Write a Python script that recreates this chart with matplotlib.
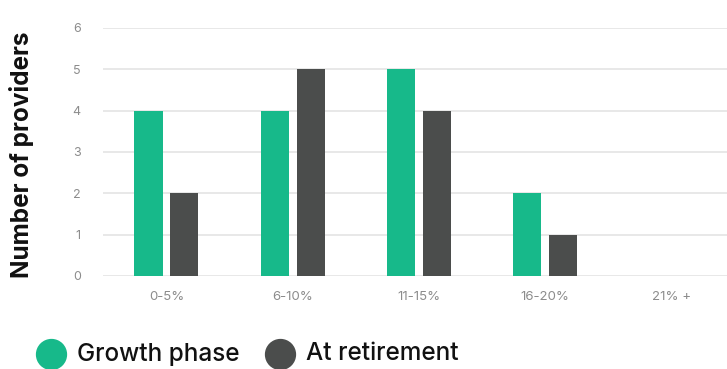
import matplotlib
matplotlib.use("Agg")
import matplotlib.pyplot as plt
from matplotlib.lines import Line2D
import numpy as np

categories = ["0-5%", "6-10%", "11-15%", "16-20%", "21% +"]
growth_phase = [4, 4, 5, 2, 0]
at_retirement = [2, 5, 4, 1, 0]
series_names = ["Growth phase", "At retirement"]
yticks = [0, 1, 2, 3, 4, 5, 6]

GREEN = "#17B98A"
DARK = "#4B4D4C"
TICK_GREY = "#8C8C8C"

plt.rcParams["font.family"] = ["Inter", "DejaVu Sans"]

fig = plt.figure(figsize=(7.27, 3.69), dpi=100)
ax = fig.add_axes([103 / 727, (369 - 276) / 369, 1 - 103 / 727, (276 - 28) / 369])

x = np.arange(len(categories))
w = 0.222
off = 0.1425
ax.bar(x - off, growth_phase, width=w, color=GREEN, zorder=3)
ax.bar(x + off, at_retirement, width=w, color=DARK, zorder=3)

ax.set_ylim(0, 6)
ax.set_xlim(-0.503, 4.44)
ax.set_yticks(yticks)
ax.set_yticklabels([str(t) for t in yticks])
ax.set_xticks(x + 0.0)
ax.set_xticklabels(categories)
ax.grid(axis="y", color="#E6E6E6", linewidth=1.3, zorder=0)
ax.set_axisbelow(True)
for s in ax.spines.values():
    s.set_visible(False)
ax.tick_params(axis="y", length=0, pad=16, labelsize=9, labelcolor=TICK_GREY)
ax.tick_params(axis="x", length=0, pad=11, labelsize=9.5, labelcolor=TICK_GREY)
for lbl in ax.get_yticklabels():
    lbl.set_clip_on(False)

fig.text(22 / 727, (369 - 155) / 369, "Number of providers", rotation=90,
         ha="center", va="center", fontsize=17.5, fontweight="bold", color="#111111")

# Legend drawn as round swatches with labels below the plot
legend_y = (369 - 354) / 369
for cx, tx, color, name in [(51, 77, GREEN, series_names[0]),
                            (280, 306, DARK, series_names[1])]:
    fig.add_artist(Line2D([cx / 727], [legend_y], marker="o", markersize=21.5,
                          color=color, linestyle="none", transform=fig.transFigure))
    fig.text(tx / 727, legend_y, name, ha="left", va="center",
             fontsize=17.5, fontweight="medium", color="#111111")

fig.savefig("out.png", dpi=100, facecolor="white")
